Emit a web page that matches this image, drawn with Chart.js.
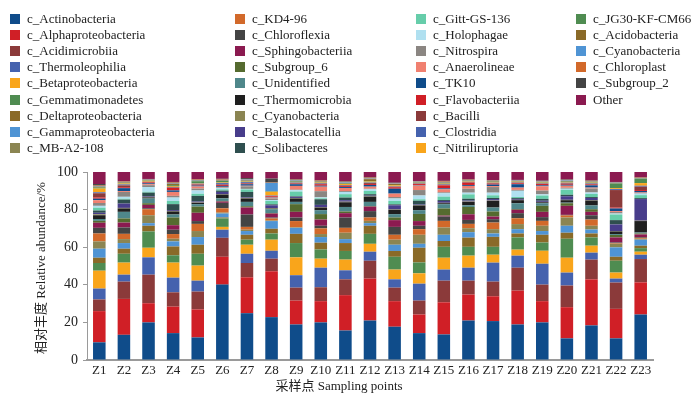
<!DOCTYPE html>
<html>
<head>
<meta charset="utf-8">
<script src="https://cdn.jsdelivr.net/npm/chart.js@4.4.1/dist/chart.umd.min.js"></script>
<style>
html,body{margin:0;padding:0;background:#fff;}
#wrap{position:relative;width:700px;height:399px;}
#legend{position:absolute;left:0;top:0;width:700px;height:160px;font-family:"Liberation Serif","Times New Roman",serif;font-size:13px;color:#222;}
.box{position:absolute;width:10px;height:10px;}
.txt{position:absolute;height:16px;line-height:16px;white-space:nowrap;}
</style>
</head>
<body>
<div id="wrap">
<canvas id="chart" width="700" height="399"></canvas>
<div id="legend"></div>
</div>
<script>
const sites = ['Z1','Z2','Z3','Z4','Z5','Z6','Z7','Z8','Z9','Z10','Z11','Z12','Z13','Z14','Z15','Z16','Z17','Z18','Z19','Z20','Z21','Z22','Z23'];
const yTicks = [0,20,40,60,80,100];

const classNames = ['c_Actinobacteria','c_Alphaproteobacteria','c_Acidimicrobiia','c_Thermoleophilia','c_Betaproteobacteria',
  'c_Gemmatimonadetes','c_Deltaproteobacteria','c_Gammaproteobacteria','c_MB-A2-108',
  'c_KD4-96','c_Chloroflexia','c_Sphingobacteriia','c_Subgroup_6','c_Unidentified','c_Thermomicrobia',
  'c_Cyanobacteria','c_Balastocatellia','c_Solibacteres',
  'c_Gitt-GS-136','c_Holophagae','c_Nitrospira','c_Anaerolineae','c_TK10','c_Flavobacteriia','c_Bacilli',
  'c_Clostridia','c_Nitriliruptoria',
  'c_JG30-KF-CM66','c_Acidobacteria','c_Cyanobacteria','c_Chloroplast','c_Subgroup_2','Other'];

const classColors = ['#0f4c8a','#d01f26','#8b3a3a','#4562ae','#f9a51b','#4f8c51','#8a6a28','#4f94d4','#8b8552',
  '#d2692a','#444444','#8b1a50','#556b2f','#4f878a','#1f1f1f','#8b8552','#483d8b','#2f4f4f',
  '#66cdaa','#b0e0f0','#8b8682','#f08070','#0f4c8a','#d01f26','#8b3a3a','#4562ae','#f9a51b',
  '#4f8c51','#8a6a28','#4f94d4','#d2692a','#444444','#8b1a50'];

// relative abundance (%) per class, Z1..Z23
const actinobacteria = [9.4,13.4,20.0,14.3,12.0,40.1,24.9,22.8,18.9,20.0,15.7,21.0,17.7,14.3,13.6,21.0,20.7,18.9,20.0,11.5,18.4,11.5,24.2];
const alphaproteobacteria = [16.6,19.1,10.2,14.1,14.9,14.8,19.1,24.4,12.7,11.3,18.8,22.3,13.6,9.9,17.1,13.8,13.2,18.0,11.3,16.6,24.5,15.7,17.1];
const acidimicrobiia = [6.2,9.2,15.2,7.6,9.5,10.1,7.6,6.7,6.9,7.4,8.4,9.5,7.2,7.4,11.5,7.4,7.8,12.2,8.8,11.5,10.5,14.0,12.4];
const thermoleophilia = [5.8,3.7,9.2,7.8,5.8,4.3,4.9,4.2,6.6,10.4,4.8,4.8,4.4,9.0,5.9,6.9,10.1,6.4,11.1,6.9,3.7,2.1,2.3];
const betaproteobacteria = [9.5,6.4,5.1,8.0,8.0,1.5,4.8,5.9,9.5,4.8,5.7,4.2,5.2,5.5,6.3,6.4,4.2,3.2,6.9,7.9,3.7,3.2,1.6];
const gemmatimonadetes = [4.1,4.7,8.7,3.9,6.3,4.5,2.7,3.3,7.6,4.9,4.6,5.3,6.8,5.8,5.8,4.7,4.2,6.5,4.4,10.1,4.4,6.3,1.9];
const deltaproteobacteria = [2.8,2.7,3.0,4.7,4.8,0.5,2.6,2.5,4.9,3.6,4.2,4.3,3.1,7.8,3.1,4.9,5.3,2.1,4.1,3.2,2.1,2.1,1.3];
const gammaproteobacteria = [4.8,3.0,1.4,2.7,4.1,2.1,2.0,4.1,3.2,3.0,2.1,1.4,3.3,2.1,3.3,2.9,1.8,2.3,2.0,3.7,2.1,5.0,3.2];
const mbA2108 = [3.9,2.1,4.2,1.4,3.2,0.5,0.7,0.3,0.3,1.6,3.4,1.2,2.7,4.8,3.9,2.1,2.3,2.7,2.8,4.4,2.0,1.9,0.5];
const kd496 = [4.2,2.8,3.2,2.5,3.8,2.3,1.5,1.1,3.3,3.0,2.6,1.8,2.6,3.0,3.5,2.3,3.5,3.1,2.6,1.1,3.3,0.3,0.5];
const chloroflexia = [3.0,3.4,0.5,2.3,1.5,2.9,6.6,0.5,1.9,1.4,5.5,3.4,4.2,1.8,2.3,2.1,1.8,2.7,2.0,0.3,2.3,0.4,0.4];
const sphingobacteriia = [2.7,2.6,1.8,2.4,4.4,0.7,3.7,2.1,3.0,3.3,2.3,2.4,3.6,2.5,0.5,3.0,1.4,1.8,2.8,4.8,1.8,2.7,1.4];
const subgroup6 = [1.0,2.2,0.9,4.1,3.3,0.3,0.7,0.3,4.1,2.9,0.9,0.3,1.4,3.8,3.8,3.9,2.7,0.4,3.2,1.4,1.4,1.3,0.5];
const unidentified = [1.0,3.5,2.5,1.6,1.3,1.4,2.3,2.0,1.2,2.1,2.4,2.2,1.8,2.0,2.3,0.9,2.1,3.1,1.4,0.3,2.0,0.5,0.5];
const thermomicrobia = [2.0,1.8,0.6,1.6,0.7,2.0,1.8,0.3,1.8,1.4,2.5,2.8,2.3,2.5,0.5,1.8,3.5,1.6,0.5,1.3,2.6,1.4,6.1];
const cyanobacteriaA = [0.5,0.3,0.3,0.3,0.2,0.2,0.3,0.3,0.3,0.2,0.3,0.2,0.2,0.2,0.2,0.2,0.2,0.2,0.2,0.2,0.2,0.2,0.2];
const balastocatellia = [0.8,2.3,0.4,0.5,0.5,1.2,0.3,1.5,0.6,1.2,0.8,0.3,2.2,0.3,1.0,0.5,0.8,0.5,0.6,1.9,1.2,3.5,11.5];
const solibacteres = [1.2,2.1,1.8,3.1,3.0,0.7,2.9,0.5,0.3,3.0,1.4,0.8,0.5,2.0,0.5,1.0,0.6,0.5,1.0,0.8,0.5,2.3,0.5];
const gittGS136 = [1.5,0.5,0.5,1.7,1.1,0.7,1.3,1.8,2.5,0.5,1.8,1.7,1.8,0.8,1.8,2.3,1.4,0.5,1.8,2.6,1.6,3.0,1.6];
const holophagae = [1.0,1.0,2.5,1.8,1.8,0.7,0.3,0.5,0.7,0.5,1.2,0.9,1.3,2.0,1.8,0.9,1.4,3.3,0.6,0.6,0.8,0.5,0.8];
const nitrospira = [1.5,2.6,1.0,0.9,1.0,0.3,1.4,0.8,0.3,3.3,0.5,0.3,0.8,2.9,0.5,2.1,3.0,0.5,2.0,0.5,2.1,0.8,0.3];
const anaerolineae = [1.5,0.5,0.5,2.1,1.1,0.3,0.3,0.5,2.0,2.4,1.6,1.1,1.8,2.4,1.6,1.5,0.5,1.2,2.3,1.1,0.5,0.5,0.3];
const tk10 = [0.8,1.5,0.5,0.8,0.5,0.5,0.8,0.3,0.9,0.5,0.5,0.9,2.6,0.3,0.5,0.5,0.8,1.8,0.5,0.5,1.2,1.4,0.8];
const flavobacteriia = [0.7,0.5,0.5,1.3,0.4,0.5,0.3,0.4,0.3,0.8,0.5,0.5,0.8,0.5,1.6,1.2,0.5,0.5,0.7,0.5,0.5,0.5,0.5];
const bacilli = [2.2,1.0,0.1,0.3,0.3,0.3,0.3,0.2,0.3,0.3,0.3,0.5,0.3,0.2,0.3,0.3,0.3,0.3,0.2,0.3,0.3,9.3,1.8];
const clostridia = [0.5,0.5,0.2,0.3,0.3,0.7,0.5,0.2,0.3,0.3,0.3,0.3,0.2,0.2,0.3,0.2,0.2,0.2,0.2,0.3,0.3,0.5,0.5];
const nitriliruptoria = [2.0,0.5,0.5,0.5,0.3,0.3,0.3,1.9,0.3,0.3,0.5,0.5,0.5,0.2,0.3,0.3,0.3,0.3,0.3,0.3,0.3,0.5,1.4];
const jg30KFCM66 = [0.5,0.3,0.2,0.5,1.0,0.8,0.3,0.2,0.3,0.3,0.3,0.3,0.2,0.2,0.3,0.2,0.2,0.2,0.3,0.3,0.3,2.5,2.3];
const acidobacteria = [0.5,0.3,0.2,0.7,0.3,0.3,0.3,0.2,0.3,0.3,0.3,1.0,0.6,0.2,0.3,0.2,0.3,0.2,0.2,0.3,0.3,0.2,0.2];
const cyanobacteriaB = [0.3,0.2,0.2,0.3,0.3,0.3,0.5,4.4,0.3,0.2,0.3,0.3,0.2,0.2,0.3,0.2,0.2,0.2,0.2,0.3,0.2,0.2,0.2];
const chloroplast = [0.3,0.2,0.2,0.3,0.3,0.3,0.3,0.2,0.3,0.2,0.3,0.5,0.2,0.2,0.3,0.2,0.2,0.2,0.2,0.3,0.2,0.2,0.2];
const subgroup2 = [0.8,0.2,0.2,0.3,0.2,0.3,0.5,2.1,0.3,0.2,0.3,0.3,0.2,0.2,0.3,0.2,0.2,0.2,0.2,0.3,0.2,0.2,0.2];
const other = [6.4,4.9,3.7,5.3,3.8,3.6,3.2,3.5,3.8,4.4,4.9,2.7,5.7,4.8,4.7,3.9,4.3,4.2,4.6,3.9,4.5,5.3,2.8];

const seriesValues = [actinobacteria,alphaproteobacteria,acidimicrobiia,thermoleophilia,betaproteobacteria,
  gemmatimonadetes,deltaproteobacteria,gammaproteobacteria,mbA2108,kd496,chloroflexia,sphingobacteriia,
  subgroup6,unidentified,thermomicrobia,cyanobacteriaA,balastocatellia,solibacteres,gittGS136,holophagae,
  nitrospira,anaerolineae,tk10,flavobacteriia,bacilli,clostridia,nitriliruptoria,jg30KFCM66,acidobacteria,
  cyanobacteriaB,chloroplast,subgroup2,other];

const serif = '"Liberation Serif","Noto Sans CJK SC",serif';

// axis titles drawn on the canvas
const axisTitles = {
  id: 'axisTitles',
  afterDraw(chart) {
    const ctx = chart.ctx;
    ctx.save();
    ctx.fillStyle = '#222';
    ctx.font = '13px ' + serif;
    ctx.textAlign = 'center';
    ctx.textBaseline = 'middle';
    ctx.fillText('采样点 Sampling points', 339, 387);
    ctx.translate(42, 268);
    ctx.rotate(-Math.PI / 2);
    ctx.fillText('相对丰度 Relative abundance/%', 0, 0);
    ctx.restore();
  }
};

const datasets = classNames.map(function(name, i) {
  return {
    label: name,
    data: seriesValues[i],
    backgroundColor: classColors[i],
    borderWidth: 0,
    barPercentage: 0.51,
    categoryPercentage: 1.0
  };
});

const chart = new Chart(document.getElementById('chart'), {
  type: 'bar',
  data: { labels: sites, datasets: datasets },
  options: {
    responsive: false,
    animation: false,
    layout: { padding: { left: 0, right: 47, top: 172, bottom: 0 } },
    plugins: { legend: { display: false }, tooltip: { enabled: false } },
    scales: {
      x: {
        stacked: true,
        offset: true,
        grid: { display: false, drawTicks: false },
        border: { color: '#9a9a9a', width: 2 },
        ticks: { font: { family: serif, size: 13 }, color: '#222', padding: 3, maxRotation: 0, autoSkip: false },
        afterFit(s) { s.height = 39; }
      },
      y: {
        stacked: true,
        min: 0,
        max: 100,
        afterBuildTicks(s) { s.ticks = yTicks.map(function(v) { return { value: v }; }); },
        ticks: { font: { family: serif, size: 14 }, color: '#222', padding: 5 },
        grid: { drawOnChartArea: false, drawTicks: true, tickLength: 4, color: '#9a9a9a' },
        border: { color: '#9a9a9a', width: 1 },
        afterFit(s) { s.width = 87; }
      }
    }
  },
  plugins: [axisTitles]
});

// legend laid out column by column, like the original
const legendEl = document.getElementById('legend');
const colX = [10, 235, 416, 576];
chart.data.datasets.forEach(function(ds, i) {
  const col = Math.min(Math.floor(i / 9), 3);
  const row = i - col * 9;
  const cy = 18.5 + row * 16.2;
  const box = document.createElement('div');
  box.className = 'box';
  box.style.left = colX[col] + 'px';
  box.style.top = (cy - 5) + 'px';
  box.style.background = ds.backgroundColor;
  const txt = document.createElement('div');
  txt.className = 'txt';
  txt.style.left = (colX[col] + 17) + 'px';
  txt.style.top = (cy - 8) + 'px';
  txt.textContent = ds.label;
  legendEl.appendChild(box);
  legendEl.appendChild(txt);
});
</script>
</body>
</html>
